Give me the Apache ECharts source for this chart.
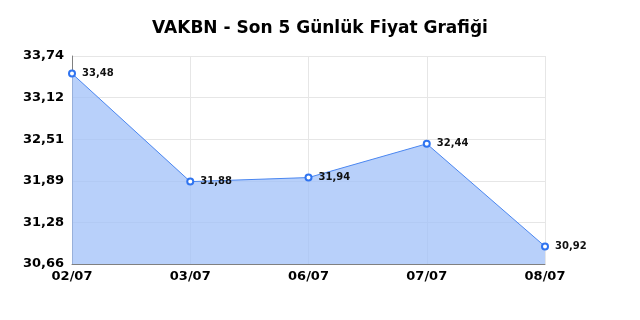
<!DOCTYPE html>
<html>
<head>
<meta charset="utf-8">
<script src="https://cdn.jsdelivr.net/npm/echarts@6/dist/echarts.min.js"></script>
<style>
  html, body { margin: 0; padding: 0; background: #fff; }
  #chart { width: 640px; height: 320px; }
</style>
</head>
<body>
<div id="chart"></div>
<script>
// veriler
var categories = ['02/07', '03/07', '06/07', '07/07', '08/07'];
var prices = [33.48, 31.88, 31.94, 32.44, 30.92];
var yMin = 30.66;
var yMax = 33.74;
var yStep = 0.616;

var font = 'DejaVu Sans';

function trNum(v) {
    return Number(v).toFixed(2).replace('.', ',');
}

var chart = echarts.init(document.getElementById('chart'));
chart.setOption({
    animation: false,
    textStyle: { fontFamily: font },
    title: {
        text: 'VAKBN - Son 5 Günlük Fiyat Grafiği',
        left: 'center',
        top: 15,
        textStyle: { fontFamily: font, fontSize: 17, fontWeight: 'bold', color: '#000' }
    },
    grid: { left: 72, right: 95, top: 56, bottom: 56 },
    xAxis: {
        type: 'category',
        boundaryGap: false,
        data: categories,
        axisLine: { lineStyle: { color: '#808080', width: 1 } },
        axisTick: { show: false },
        axisLabel: { fontFamily: font, color: '#000', fontSize: 13, fontWeight: 'bold', margin: 6 },
        splitLine: { show: true, lineStyle: { color: '#e6e6e6' } }
    },
    yAxis: {
        type: 'value',
        min: yMin,
        max: yMax,
        interval: yStep,
        axisLine: { show: true, lineStyle: { color: '#808080', width: 1 } },
        axisTick: { show: false },
        axisLabel: {
            fontFamily: font, color: '#000', fontSize: 13, fontWeight: 'bold', margin: 8,
            formatter: function (v) { return trNum(v); }
        },
        splitLine: { lineStyle: { color: '#e6e6e6' } }
    },
    series: [
        {
            type: 'line',
            data: prices,
            symbol: 'emptyCircle',
            symbolSize: 6,
            lineStyle: { color: '#4a86f0', width: 1 },
            itemStyle: { color: '#2f74f0', borderWidth: 1.5 },
            areaStyle: { color: 'rgb(160, 192, 248)', opacity: 0.75 },
            label: {
                show: true,
                position: 'right',
                distance: 6,
                fontFamily: font,
                fontSize: 10,
                fontWeight: 'bold',
                color: '#111',
                formatter: function (p) { return trNum(p.value); }
            }
        }
    ]
});
</script>
</body>
</html>
